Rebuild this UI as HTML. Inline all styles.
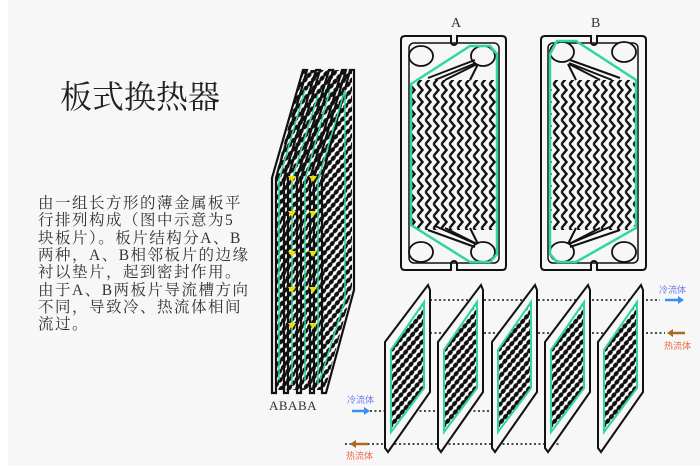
<!DOCTYPE html>
<html><head><meta charset="utf-8"><style>
body{margin:0;background:#f7f7f7;}
svg{display:block}
.t{font-family:"Liberation Serif","Noto Serif CJK SC",serif;}
</style></head><body>
<svg width="700" height="466" viewBox="0 0 700 466" xmlns="http://www.w3.org/2000/svg">
<defs>
<pattern id="zz" width="8" height="12" patternUnits="userSpaceOnUse">
<polyline points="1.5,0 6.5,6 1.5,12" fill="none" stroke="#111" stroke-width="2.4"/>
</pattern>
<pattern id="hx" width="6" height="6" patternUnits="userSpaceOnUse" patternTransform="rotate(-50)">
<rect width="6" height="6" fill="#fff"/>
<ellipse cx="3" cy="3" rx="3.2" ry="2.1" fill="#111"/>
</pattern>
<clipPath id="ca"><polygon points="411,84 470,46 490,46 496,56 496,246 488,262 470,262 411,225"/></clipPath>
<clipPath id="cb"><polygon points="550,56 556,46 576,46 636,84 636,225 576,262 556,262 550,246"/></clipPath>
</defs>
<rect x="0" y="0" width="8" height="466" fill="#fff"/>
<text class="t" x="60" y="108" font-size="32" fill="#222">板式换热器</text>
<g class="t" font-size="15.5" fill="#333" letter-spacing="1.5">
<text x="38" y="208">由一组长方形的薄金属板平</text>
<text x="38" y="225">行排列构成（图中示意为5</text>
<text x="38" y="243">块板片）。板片结构分A、B</text>
<text x="38" y="260">两种，A、B相邻板片的边缘</text>
<text x="38" y="277">衬以垫片，起到密封作用。</text>
<text x="38" y="295">由于A、B两板片导流槽方向</text>
<text x="38" y="312">不同，导致冷、热流体相间</text>
<text x="38" y="329">流过。</text>
</g>
<!-- Plate A -->
<text class="t" x="451" y="27" font-size="14" fill="#333">A</text>
<path d="M405,36 H451 V42 A3,3 0 0 0 457,42 V36 H502 Q506,36 506,40 V266 Q506,270 502,270 H457 V264 A3,3 0 0 0 451,264 V270 H405 Q401,270 401,266 V40 Q401,36 405,36Z" fill="#f7f7f7" stroke="#111" stroke-width="2"/>
<rect x="409" y="43" width="90" height="220" rx="5" fill="none" stroke="#111" stroke-width="1.5"/>
<rect x="411" y="80" width="86" height="150" fill="url(#zz)" clip-path="url(#ca)"/>
<g fill="#f7f7f7" stroke="#111" stroke-width="1.8">
<ellipse cx="421" cy="56" rx="12" ry="10"/><ellipse cx="421" cy="252" rx="12" ry="10"/>
<ellipse cx="483" cy="56" rx="12" ry="10"/><ellipse cx="483" cy="252" rx="12" ry="10"/></g>
<g stroke="#111" stroke-width="2"><line x1="428" y1="78" x2="475" y2="60"/><line x1="435" y1="80" x2="476" y2="63"/><line x1="445" y1="80" x2="477" y2="64"/><line x1="470" y1="80" x2="478" y2="64"/>
<line x1="428" y1="230" x2="475" y2="247"/><line x1="435" y1="226" x2="476" y2="244"/><line x1="445" y1="228" x2="477" y2="244"/><line x1="470" y1="228" x2="478" y2="244"/></g>
<polygon points="411,84 470,46 490,46 497,54 497,254 490,262 470,262 411,225" fill="none" stroke="#2fd89a" stroke-width="2.5"/>
<!-- Plate B -->
<text class="t" x="591" y="27" font-size="14" fill="#333">B</text>
<path d="M545,36 H591 V42 A3,3 0 0 0 597,42 V36 H642 Q646,36 646,40 V266 Q646,270 642,270 H597 V264 A3,3 0 0 0 591,264 V270 H545 Q541,270 541,266 V40 Q541,36 545,36Z" fill="#f7f7f7" stroke="#111" stroke-width="2"/>
<rect x="548" y="43" width="90" height="220" rx="5" fill="none" stroke="#111" stroke-width="1.5"/>
<rect x="550" y="80" width="86" height="150" fill="url(#zz)" clip-path="url(#cb)"/>
<g fill="#f7f7f7" stroke="#111" stroke-width="1.8">
<ellipse cx="562" cy="52" rx="12" ry="10"/><ellipse cx="562" cy="252" rx="12" ry="10"/>
<ellipse cx="624" cy="52" rx="12" ry="10"/><ellipse cx="624" cy="252" rx="12" ry="10"/></g>
<g stroke="#111" stroke-width="2"><line x1="620" y1="78" x2="570" y2="60"/><line x1="612" y1="80" x2="569" y2="63"/><line x1="600" y1="80" x2="569" y2="64"/><line x1="576" y1="80" x2="568" y2="64"/>
<line x1="620" y1="230" x2="570" y2="247"/><line x1="612" y1="226" x2="569" y2="244"/><line x1="600" y1="228" x2="569" y2="244"/><line x1="576" y1="228" x2="568" y2="244"/></g>
<polygon points="550,54 557,41 576,41 636,80 636,228 576,262 557,262 550,254" fill="none" stroke="#2fd89a" stroke-width="2.5"/>
<!-- Stack -->
<g>
<polygon points="275,178 303,70 352,70 352,290 325,390 275,390" fill="url(#hx)"/>
<g fill="none" stroke="#111" stroke-width="2.2">
<polygon points="272,393 272,178 303,70 307,70 276,178 276,393"/>
<polygon points="284,393 284,178 316,70 320,70 288,178 288,393"/>
<polygon points="297,393 297,178 329,70 333,70 301,178 301,393"/>
<polygon points="310,393 310,178 342,70 346,70 314,178 314,393"/>
<polygon points="322,393 322,178 350,70 354,70 354,290 326,393"/>
</g>
<g fill="none" stroke="#2fd89a" stroke-width="1.5">
<polyline points="279,380 279,180 305,90"/><polyline points="292,385 292,180 318,95"/><polyline points="305,380 305,180 330,90"/><polyline points="318,385 318,180 345,90 345,300 320,380"/>
</g>
<g fill="#f2e000"><polygon points="288,176 296,176 292,182"/><polygon points="309,176 317,176 313,182"/>
<polygon points="288,211 296,211 292,217"/><polygon points="309,211 317,211 313,217"/>
<polygon points="288,251 296,251 292,257"/><polygon points="309,251 317,251 313,257"/>
<polygon points="288,287 296,287 292,293"/><polygon points="309,287 317,287 313,293"/>
<polygon points="288,323 296,323 292,329"/><polygon points="309,323 317,323 313,329"/></g>
<text class="t" x="269" y="410" font-size="13" fill="#333" letter-spacing="0.5">ABABA</text>
</g>
<!-- Bottom plates -->
<g stroke="#111" stroke-dasharray="2,2.5" stroke-width="1.6" fill="none">
<line x1="430" y1="300" x2="660" y2="300"/><line x1="430" y1="333" x2="665" y2="333"/>
<line x1="370" y1="411" x2="495" y2="411"/><line x1="345" y1="444" x2="560" y2="444"/>
</g>
<g id="bp">
<polygon points="385,342 428,285 430,290 430,392 388,452 385,448" fill="#f7f7f7" stroke="#111" stroke-width="2"/>
<polygon points="391,350 424,302 424,388 391,432" fill="url(#hx)"/>
<polygon points="391,350 424,302 424,388 391,432" fill="none" stroke="#2fd89a" stroke-width="2"/>
</g>
<use href="#bp" x="53"/><use href="#bp" x="107"/><use href="#bp" x="160"/><use href="#bp" x="213"/>
<!-- arrows -->
<g font-family="Liberation Sans,'Noto Sans CJK SC',sans-serif" font-size="9">
<text x="659" y="293" fill="#6b7cf0">冷流体</text>
<line x1="665" y1="300" x2="678" y2="300" stroke="#3b8ef0" stroke-width="2.5"/><polygon points="678,296 684,300 678,304" fill="#3b8ef0"/>
<line x1="673" y1="333" x2="685" y2="333" stroke="#a86a20" stroke-width="2.5"/><polygon points="673,329 667,333 673,337" fill="#a86a20"/>
<text x="664" y="349" fill="#e86a4a">热流体</text>
<text x="347" y="403" fill="#6b7cf0">冷流体</text>
<line x1="352" y1="411" x2="364" y2="411" stroke="#3b8ef0" stroke-width="2.5"/><polygon points="364,407 370,411 364,415" fill="#3b8ef0"/>
<line x1="356" y1="444" x2="368" y2="444" stroke="#a86a20" stroke-width="2.5"/><polygon points="356,440 350,444 356,448" fill="#a86a20"/>
<text x="346" y="459" fill="#e86a4a">热流体</text>
</g>
</svg>
</body></html>
